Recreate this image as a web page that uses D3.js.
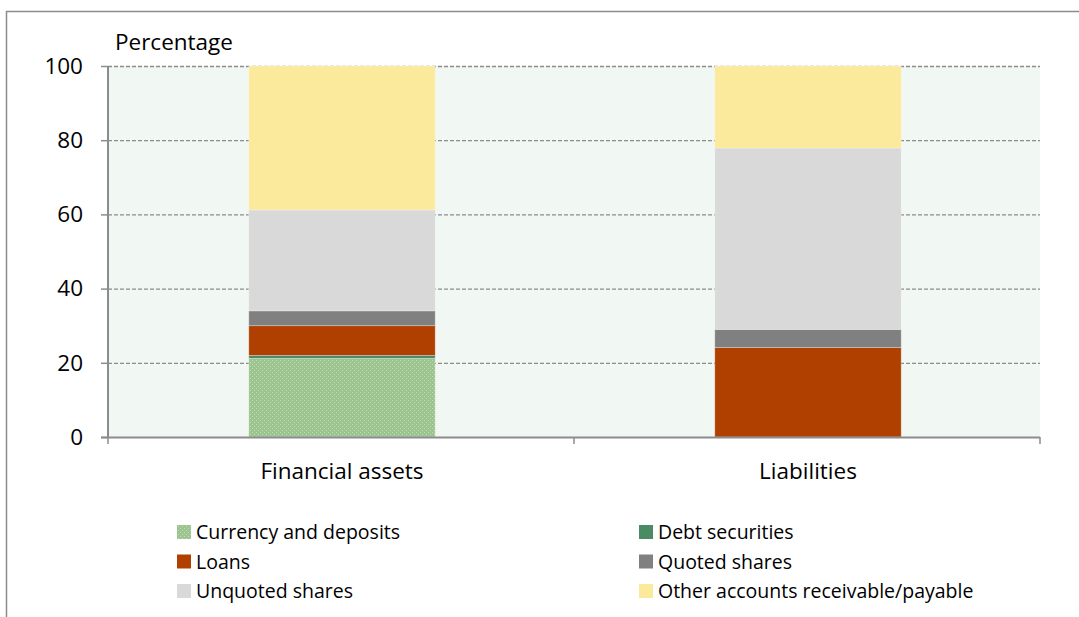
<!DOCTYPE html>
<html>
<head>
<meta charset="utf-8">
<script src="https://cdn.jsdelivr.net/npm/d3@7"></script>
<style>
body { margin: 0; background: #fff; }
svg text { font-family: "Open Sans", sans-serif; fill: #000; }
</style>
</head>
<body>
<svg id="chart" width="1079" height="617"></svg>
<script>
const categories = ['Financial assets', 'Liabilities'];
const seriesNames = ['Currency and deposits', 'Debt securities', 'Loans', 'Quoted shares',
                     'Unquoted shares', 'Other accounts receivable/payable'];
const currencyDeposits = [21.2, 0];
const debtSecurities = [0.8, 0];
const loans = [8.0, 24.1];
const quotedShares = [4.0, 4.9];
const unquotedShares = [27.2, 48.9];
const otherAccounts = [38.8, 22.1];
const yTicks = [0, 20, 40, 60, 80, 100];

const colors = ['url(#dots)', '#4b8b63', '#b04000', '#808080', '#d9d9d9', '#fbe99c'];
const seriesValues = [currencyDeposits, debtSecurities, loans, quotedShares, unquotedShares, otherAccounts];

const svg = d3.select('#chart');
const plot = {left: 108, right: 1040, top: 66, bottom: 437};

// pattern for currency and deposits
const defs = svg.append('defs');
const pat = defs.append('pattern').attr('id', 'dots')
    .attr('width', 4).attr('height', 4).attr('patternUnits', 'userSpaceOnUse');
pat.append('rect').attr('width', 4).attr('height', 4).attr('fill', '#9cc48f');
pat.append('rect').attr('x', 0).attr('y', 0).attr('width', 1).attr('height', 1).attr('fill', '#c4dcba');
pat.append('rect').attr('x', 2).attr('y', 2).attr('width', 1).attr('height', 1).attr('fill', '#c4dcba');

// outer frame
svg.append('path')
    .attr('d', 'M6.5,617 L6.5,11.5 L1079,11.5')
    .attr('fill', 'none').attr('stroke', '#8c8c8c').attr('stroke-width', 1.5);

const x = d3.scaleBand().domain(categories).range([plot.left, plot.right]).paddingInner(0.6).paddingOuter(0.3);
const y = d3.scaleLinear().domain([0, 100]).range([plot.bottom, plot.top]);

svg.append('rect')
    .attr('x', plot.left).attr('y', plot.top)
    .attr('width', plot.right - plot.left).attr('height', plot.bottom - plot.top)
    .attr('fill', '#f1f7f3');

// gridlines
svg.append('g').selectAll('line').data(yTicks.filter(d => d > 0)).join('line')
    .attr('x1', plot.left).attr('x2', plot.right)
    .attr('y1', d => y(d) + 0.5).attr('y2', d => y(d) + 0.5)
    .attr('stroke', '#8c8c8c').attr('stroke-width', 1.3)
    .attr('stroke-dasharray', '4,2');

// stacked bars
const rows = categories.map((c, i) => {
    const r = {cat: c};
    seriesNames.forEach((s, j) => r[s] = seriesValues[j][i]);
    return r;
});
const stacked = d3.stack().keys(seriesNames)(rows);

svg.append('g').selectAll('g').data(stacked).join('g')
    .attr('fill', (d, i) => colors[i])
    .selectAll('rect').data(d => d).join('rect')
    .attr('x', d => x(d.data.cat) + 1)
    .attr('width', x.bandwidth())
    .attr('y', d => y(d[1]))
    .attr('height', d => Math.max(0, y(d[0]) - y(d[1])))
    .attr('stroke', d => (d[1] - d[0]) > 0 ? '#ffffff' : 'none')
    .attr('stroke-opacity', 0.35)
    .attr('stroke-width', 0.8);

// y axis
const yAxis = d3.axisLeft(y).tickValues(yTicks).tickSize(7).tickPadding(18);
const gy = svg.append('g').attr('transform', `translate(${plot.left},0)`).call(yAxis);
gy.select('.domain').attr('stroke', '#8c8c8c').attr('stroke-width', 2).attr('d', `M0,${plot.top}V${plot.bottom}`);
gy.selectAll('.tick line').attr('stroke', '#8c8c8c').attr('stroke-width', 1.5);
gy.selectAll('.tick text').attr('font-size', 22.5).attr('font-family', '"Open Sans", sans-serif').attr('fill', '#000');

// x axis
const gx = svg.append('g').attr('transform', `translate(0,${plot.bottom})`);
gx.append('line').attr('x1', plot.left - 7).attr('x2', plot.right)
    .attr('y1', 0.5).attr('y2', 0.5).attr('stroke', '#8c8c8c').attr('stroke-width', 2);
const boundaries = [plot.left, (plot.left + plot.right) / 2, plot.right];
gx.selectAll('line.tk').data(boundaries).join('line').attr('class', 'tk')
    .attr('x1', d => d).attr('x2', d => d).attr('y1', 0).attr('y2', 7)
    .attr('stroke', '#8c8c8c').attr('stroke-width', 1.5);
gx.selectAll('text').data(categories).join('text')
    .attr('x', d => x(d) + x.bandwidth() / 2 + 1).attr('y', 42)
    .attr('text-anchor', 'middle').attr('font-size', 22.5).text(d => d);

svg.append('text').attr('x', 115).attr('y', 50).attr('font-size', 22.5).text('Percentage');

// legend
const legend = svg.append('g');
seriesNames.forEach((s, i) => {
    const col = i % 2, row = Math.floor(i / 2);
    const lx = col === 0 ? 177 : 639;
    const ly = 525 + row * 29.5;
    legend.append('rect').attr('x', lx).attr('y', ly).attr('width', 14).attr('height', 14).attr('fill', colors[i]);
    legend.append('text').attr('x', lx + 19).attr('y', ly + 14).attr('font-size', 19.5).text(s);
});
</script>
</body>
</html>
